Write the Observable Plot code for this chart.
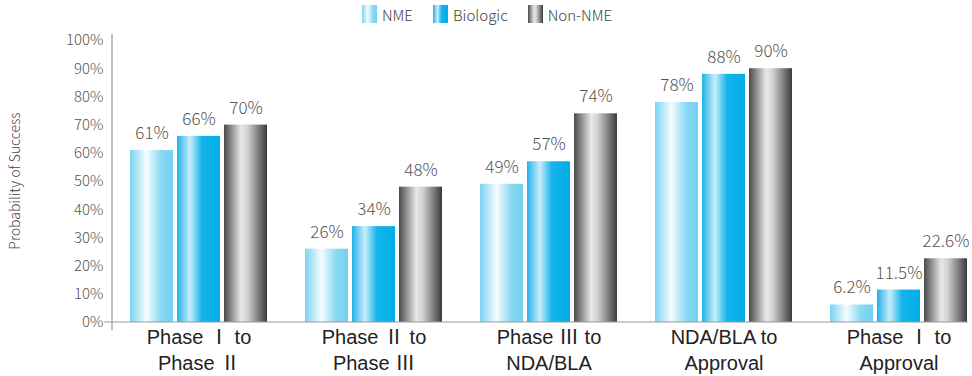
<!DOCTYPE html>
<html>
<head>
<meta charset="utf-8">
<script src="https://cdn.jsdelivr.net/npm/d3@7"></script>
<script src="https://cdn.jsdelivr.net/npm/@observablehq/plot@0.6"></script>
<style>
  html, body { margin: 0; padding: 0; background: #fff; }
  body { width: 972px; height: 376px; overflow: hidden; font-family: "Noto Sans CJK KR", "Noto Sans", sans-serif; font-weight: 300; }
  #legend { height: 28px; display: flex; justify-content: center; align-items: center; gap: 20px; font-size: 15px; color: #444; padding-left: 2px; box-sizing: border-box; }
  #legend .item { display: flex; align-items: center; gap: 5px; }
  #legend .sw { width: 15px; height: 18px; display: inline-block; }
  .fx-labels text { font-family: "Liberation Sans", "Noto Sans CJK KR", sans-serif; }
</style>
</head>
<body>
<div id="legend"></div>
<div id="chart"></div>
<script>
const categories = ["Phase Ⅰ to\nPhase Ⅱ", "Phase Ⅱ to\nPhase Ⅲ", "Phase Ⅲ to\nNDA/BLA", "NDA/BLA to\nApproval", "Phase Ⅰ to\nApproval"];
const series = ["NME", "Biologic", "Non-NME"];
const nmeValues = [61, 26, 49, 78, 6.2];
const biologicValues = [66, 34, 57, 88, 11.5];
const nonNmeValues = [70, 48, 74, 90, 22.6];
const yTicks = [0, 10, 20, 30, 40, 50, 60, 70, 80, 90, 100];

const gradients = {
  "NME": [[0, "#7ad3f1"], [0.38, "#f6fcfe"], [0.72, "#8ad9f3"], [1, "#72d0f0"]],
  "Biologic": [[0, "#20b2e8"], [0.3, "#c9edfa"], [0.58, "#14b4ea"], [1, "#00aee8"]],
  "Non-NME": [[0, "#4a4a4a"], [0.4, "#e8e8e8"], [0.55, "#d2d2d2"], [0.85, "#6e6e6e"], [1, "#3a3a3a"]]
};
const gradIds = {"NME": "g-nme", "Biologic": "g-bio", "Non-NME": "g-non"};

const valuesBySeries = [nmeValues, biologicValues, nonNmeValues];
const data = [];
categories.forEach((c, i) => series.forEach((s, j) => data.push({category: c, series: s, value: valuesBySeries[j][i]})));
const fmt = v => (v % 1 ? v.toFixed(1) : String(v)) + "%";

const FONT = '"Noto Sans CJK KR", "Noto Sans", sans-serif';
const W = 972, H = 348, ML = 112, MB = 54, MT = 12;
const chart = Plot.plot({
  width: W,
  height: H,
  marginLeft: ML,
  marginRight: -12,
  marginTop: MT,
  marginBottom: MB,
  style: {fontFamily: FONT, fontWeight: 300, background: "#fff"},
  fx: {domain: categories, paddingInner: 0.22, paddingOuter: 0.1, label: null},
  x: {domain: series, paddingInner: 0.09, paddingOuter: 0, axis: null},
  y: {domain: [0, 100], label: null},
  color: {domain: series, range: series.map(s => `url(#${gradIds[s]})`)},
  marks: [
    Plot.axisY({ticks: yTicks, tickFormat: d => d + "%", tickSize: 0, tickPadding: 27, fontSize: 15, fill: "#555", label: null}),
    Plot.axisFx({anchor: "bottom", className: "fx-labels", tickSize: 0, tickPadding: 3, fontSize: 20, fontWeight: 400, fill: "#222", lineHeight: 1.3, label: null}),
    Plot.barY(data, {fx: "category", x: "series", y: "value", fill: "series"}),
    Plot.text(data, {fx: "category", x: "series", y: "value", text: d => fmt(d.value), dy: -17, fontSize: 17, fill: "#555"})
  ]
});

// gradients
const svg = d3.select(chart);
const defs = svg.insert("defs", ":first-child");
for (const s of series) {
  const g = defs.append("linearGradient").attr("id", gradIds[s]).attr("x1", 0).attr("x2", 1).attr("y1", 0).attr("y2", 0);
  for (const [o, c] of gradients[s]) g.append("stop").attr("offset", o).attr("stop-color", c);
}
// axis lines from scales
const ys = chart.scale("y");
const y0 = ys.apply(0), yTop = ys.apply(100) - 6;
svg.append("line").attr("x1", ML - 8).attr("x2", W - 4).attr("y1", y0).attr("y2", y0).attr("stroke", "#999").attr("stroke-width", 1.2);
svg.append("line").attr("x1", ML).attr("x2", ML).attr("y1", yTop).attr("y2", y0 + 8).attr("stroke", "#999").attr("stroke-width", 1.2);
// y label
svg.append("text").attr("transform", `translate(20,${(y0 + ys.apply(100)) / 2}) rotate(-90)`).attr("text-anchor", "middle")
  .attr("font-size", 14).attr("fill", "#444").text("Probability of Success");

document.getElementById("chart").appendChild(chart);

// legend
const leg = d3.select("#legend");
for (const s of series) {
  const it = leg.append("span").attr("class", "item");
  const stops = gradients[s].map(([o, c]) => `${c} ${o * 100}%`).join(", ");
  it.append("span").attr("class", "sw").style("background", `linear-gradient(to right, ${stops})`);
  it.append("span").text(s);
}
</script>
</body>
</html>
